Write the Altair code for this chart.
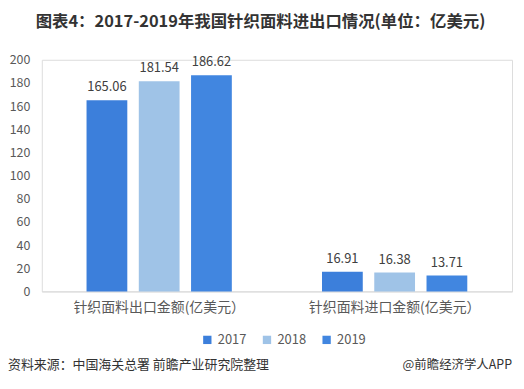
import altair as alt
import pandas as pd

categories = ["针织面料出口金额(亿美元）", "针织面料进口金额(亿美元）"]
years = ["2017", "2018", "2019"]
export_values = [165.06, 181.54, 186.62]
import_values = [16.91, 16.38, 13.71]
colors = ["#3C7FDB", "#9FC3E7", "#4186E0"]

rows = []
for cat, vals in zip(categories, [export_values, import_values]):
    for y, v in zip(years, vals):
        rows.append({"类别": cat, "年份": y, "金额": v})
df = pd.DataFrame(rows)

FONT = "Noto Sans CJK SC"
W, H = 473, 233

x_enc = alt.X("类别:N", sort=categories,
              scale=alt.Scale(paddingInner=0.383, paddingOuter=0.19),
              axis=alt.Axis(title=None, labelAngle=0, labelFontSize=14, labelColor="#595959",
                            labelFont=FONT, labelPadding=9, ticks=False,
                            domainColor="#d9d9d9", domainWidth=1))
xoff = alt.XOffset("年份:N", sort=years,
                   scale=alt.Scale(paddingInner=0.22, paddingOuter=0))
y_enc = alt.Y("金额:Q", scale=alt.Scale(domain=[0, 200], nice=False),
              axis=alt.Axis(title=None, values=list(range(0, 201, 20)), grid=False,
                            domain=False, ticks=False, labelPadding=12, labelOverlap=False,
                            labelFontSize=12.5, labelColor="#595959", labelFont=FONT))

base = alt.Chart(df)
bars = base.mark_bar().encode(
    x=x_enc, xOffset=xoff, y=y_enc,
    color=alt.Color("年份:N", sort=years,
                    scale=alt.Scale(domain=years, range=colors),
                    legend=alt.Legend(title=None, orient="none", direction="horizontal",
                                      legendX=160, legendY=275, symbolType="square",
                                      symbolSize=70, labelFontSize=13, labelFont=FONT,
                                      labelColor="#595959", columnPadding=14,
                                      symbolStrokeWidth=0)),
)
labels = base.mark_text(dy=-13, fontSize=13, font=FONT, color="#404040").encode(
    x=x_enc, xOffset=xoff, y=y_enc, text=alt.Text("金额:Q", format=".2f"),
)

title_df = pd.DataFrame({"t": ["图表4：2017-2019年我国针织面料进出口情况(单位：亿美元)"]})
title = alt.Chart(title_df).mark_text(fontSize=16.5, fontWeight="bold", font=FONT,
                                      color="#333333", align="center", baseline="middle").encode(
    x=alt.value(220), y=alt.value(-38), text="t:N")

src_df = pd.DataFrame({"t": ["资料来源：中国海关总署 前瞻产业研究院整理"]})
src = alt.Chart(src_df).mark_text(fontSize=13, font=FONT, color="#333333",
                                  align="left", baseline="middle").encode(
    x=alt.value(-34), y=alt.value(307), text="t:N")

app_df = pd.DataFrame({"t": ["@前瞻经济学人APP"]})
app = alt.Chart(app_df).mark_text(fontSize=12.5, font=FONT, color="#333333",
                                  align="right", baseline="middle").encode(
    x=alt.value(473), y=alt.value(307), text="t:N")

chart = alt.layer(bars, labels, title, src, app).properties(
    width=W, height=H,
    autosize=alt.AutoSizeParams(type="none"),
    padding={"left": 34, "top": 51, "right": 4, "bottom": 88},
).configure_view(stroke=None).configure(background="white").configure_axis(labelOverlap=False)

chart.save("out.html", embed_options={"renderer": "svg", "actions": False})
